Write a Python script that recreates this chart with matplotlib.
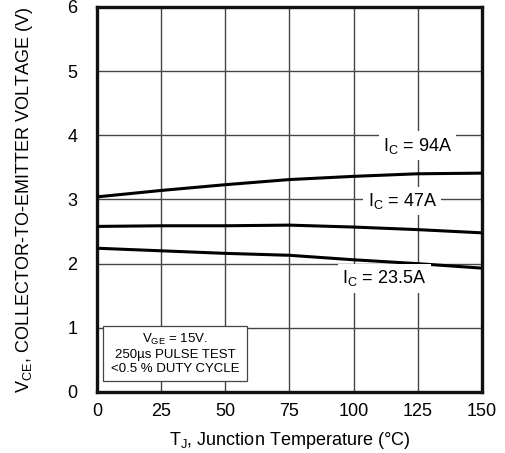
import matplotlib
matplotlib.use("Agg")
import matplotlib.pyplot as plt
from matplotlib.patches import Rectangle

plt.rcParams['font.family'] = ['Liberation Sans', 'DejaVu Sans']
plt.rcParams['mathtext.default'] = 'regular'

# junction temperature (deg C) and V_CE (V)
temp = [0, 25, 50, 75, 100, 125, 150]
vce_94a = [3.04, 3.14, 3.23, 3.31, 3.36, 3.40, 3.41]
vce_47a = [2.58, 2.59, 2.59, 2.60, 2.57, 2.53, 2.48]
vce_23a = [2.24, 2.20, 2.16, 2.13, 2.06, 2.00, 1.93]

curve_labels = ["$I_C$ = 94A", "$I_C$ = 47A", "$I_C$ = 23.5A"]
label_pos = [(125, 3.84), (119, 2.98), (112, 1.77)]

fig = plt.figure(figsize=(5.05, 4.53), dpi=100)
ax = fig.add_axes([0.192, 0.1347, 0.762, 0.85])

ax.plot(temp, vce_94a, color='black', linewidth=2.2, zorder=3)
ax.plot(temp, vce_47a, color='black', linewidth=2.2, zorder=3)
ax.plot(temp, vce_23a, color='black', linewidth=2.2, zorder=3)

for txt, (x, y) in zip(curve_labels, label_pos):
    ax.text(x, y, txt, fontsize=13, ha='center', va='center', zorder=4,
            bbox=dict(facecolor='white', edgecolor='none', pad=3))

ax.set_xlim(0, 150)
ax.set_ylim(0, 6)
ax.set_xticks([0, 25, 50, 75, 100, 125, 150])
ax.set_yticks([0, 1, 2, 3, 4, 5, 6])
ax.grid(True, color='#444444', linewidth=1.0)
ax.set_axisbelow(True)
ax.tick_params(axis='both', length=0, labelsize=13)
ax.tick_params(axis='y', pad=14)
ax.tick_params(axis='x', pad=8)
for s in ax.spines.values():
    s.set_linewidth(2.4)
    s.set_color('#111111')

ax.set_xlabel("$T_J$, Junction Temperature (°C)", fontsize=13)
ax.set_ylabel("$V_{CE}$, COLLECTOR-TO-EMITTER VOLTAGE (V)", fontsize=13)
ax.xaxis.set_label_coords(0.5, -0.1)
ax.yaxis.set_label_coords(-0.16, 0.5)

# test-condition note box
ax.add_patch(Rectangle((0.016, 0.029), 0.374, 0.142, transform=ax.transAxes,
                       facecolor='white', edgecolor='#444444', linewidth=0.9, zorder=4))
ax.text(0.203, 0.1, "$V_{GE}$ = 15V.\n250µs PULSE TEST\n<0.5 % DUTY CYCLE",
        transform=ax.transAxes, fontsize=9.5, ha='center', va='center',
        linespacing=1.25, zorder=5)

fig.savefig('out.png', dpi=100)
